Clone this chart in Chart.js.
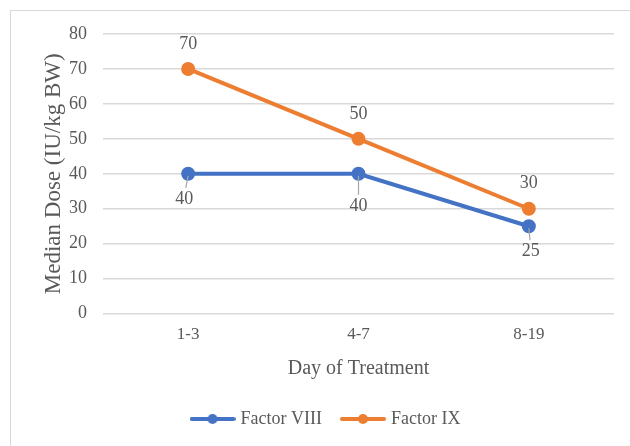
<!DOCTYPE html>
<html>
<head>
<meta charset="utf-8">
<script src="https://cdn.jsdelivr.net/npm/chart.js@4/dist/chart.umd.min.js"></script>
<style>
  html, body { margin: 0; padding: 0; background: #fff; }
  #wrap { position: relative; width: 630px; height: 446px; overflow: hidden; }
  #frame { position: absolute; left: 10px; top: 10px; width: 640px; height: 460px; border: 1px solid #d9d9d9; box-sizing: border-box; }
  #c { position: absolute; left: 0; top: 0; }
</style>
</head>
<body>
<div id="wrap">
  <div id="frame"></div>
  <canvas id="c" width="630" height="446"></canvas>
</div>
<script>
var days = ["1-3", "4-7", "8-19"];
var factorVIII = [40, 40, 25];
var factorIX = [70, 50, 30];
var yTicks = [0, 10, 20, 30, 40, 50, 60, 70, 80];

var fontName = "'Liberation Serif', serif";
var textColor = "#595959";

// legend marker: short line with a dot in the middle
function legendMarker(color) {
  var cv = document.createElement("canvas");
  cv.width = 46; cv.height = 12;
  var g = cv.getContext("2d");
  g.strokeStyle = color;
  g.lineWidth = 4;
  g.lineCap = "round";
  g.beginPath(); g.moveTo(2, 6); g.lineTo(44, 6); g.stroke();
  g.fillStyle = color;
  g.beginPath(); g.arc(23, 6, 5, 0, Math.PI * 2); g.fill();
  return cv;
}

// value labels: Factor IX above, Factor VIII below with small leader lines
var valueLabels = {
  id: "valueLabels",
  afterDatasetsDraw: function(chart) {
    var ctx = chart.ctx;
    ctx.save();
    ctx.font = "18px " + fontName;
    ctx.fillStyle = textColor;
    ctx.textAlign = "center";
    ctx.textBaseline = "middle";
    chart.data.datasets.forEach(function(ds, di) {
      var meta = chart.getDatasetMeta(di);
      meta.data.forEach(function(pt, i) {
        var v = ds.data[i];
        if (di === 1) {
          ctx.fillText(v, pt.x, pt.y - 25);
        } else {
          var dy = (i === 1) ? 32 : 25;
          var dx = (i === 0) ? -4 : (i === 2 ? 2 : 0);
          ctx.strokeStyle = "#a6a6a6";
          ctx.lineWidth = 1.2;
          ctx.beginPath();
          ctx.moveTo(pt.x, pt.y + 2);
          ctx.lineTo(pt.x + dx * 0.6, pt.y + dy - 11);
          ctx.stroke();
          ctx.fillText(v, pt.x + dx, pt.y + dy);
        }
      });
    });
    ctx.restore();
  }
};

var ctx = document.getElementById("c").getContext("2d");
var chart = new Chart(ctx, {
  type: "line",
  data: {
    labels: days,
    datasets: [
      {
        label: "Factor VIII",
        data: factorVIII,
        borderColor: "#4472C4",
        backgroundColor: "#4472C4",
        borderWidth: 4,
        pointRadius: 5,
        pointHoverRadius: 5,
        tension: 0
      },
      {
        label: "Factor IX",
        data: factorIX,
        borderColor: "#ED7D31",
        backgroundColor: "#ED7D31",
        borderWidth: 4,
        pointRadius: 5,
        pointHoverRadius: 5,
        tension: 0
      }
    ]
  },
  options: {
    responsive: false,
    animation: false,
    layout: { padding: { left: 40, right: 16, top: 34, bottom: 8 } },
    scales: {
      x: {
        offset: true,
        grid: { display: false, drawTicks: false },
        border: { display: false },
        ticks: { color: textColor, font: { family: fontName, size: 17 }, padding: 11 },
        title: { display: true, text: "Day of Treatment", color: textColor, font: { family: fontName, size: 20 }, padding: { top: 1, bottom: 7 } }
      },
      y: {
        min: 0,
        max: 80,
        afterBuildTicks: function(axis) { axis.ticks = yTicks.map(function(v) { return { value: v }; }); },
        afterFit: function(axis) { axis.width = 63; },
        grid: { color: "#d9d9d9", lineWidth: 1.5, drawTicks: false },
        border: { display: false },
        ticks: { color: textColor, font: { family: fontName, size: 18 }, padding: 16 },
        title: { display: true, text: "Median Dose (IU/kg BW)", color: textColor, font: { family: fontName, size: 23 }, padding: { top: 0, bottom: 4 } }
      }
    },
    plugins: {
      legend: {
        position: "bottom",
        labels: {
          color: textColor,
          font: { family: fontName, size: 18 },
          usePointStyle: true,
          pointStyleWidth: 38,
          padding: 22,
          generateLabels: function(ch) {
            var items = Chart.defaults.plugins.legend.labels.generateLabels(ch);
            items.forEach(function(it, k) {
              it.pointStyle = legendMarker(ch.data.datasets[k].borderColor);
            });
            return items;
          }
        }
      },
      tooltip: { enabled: false }
    }
  },
  plugins: [valueLabels]
});
</script>
</body>
</html>
